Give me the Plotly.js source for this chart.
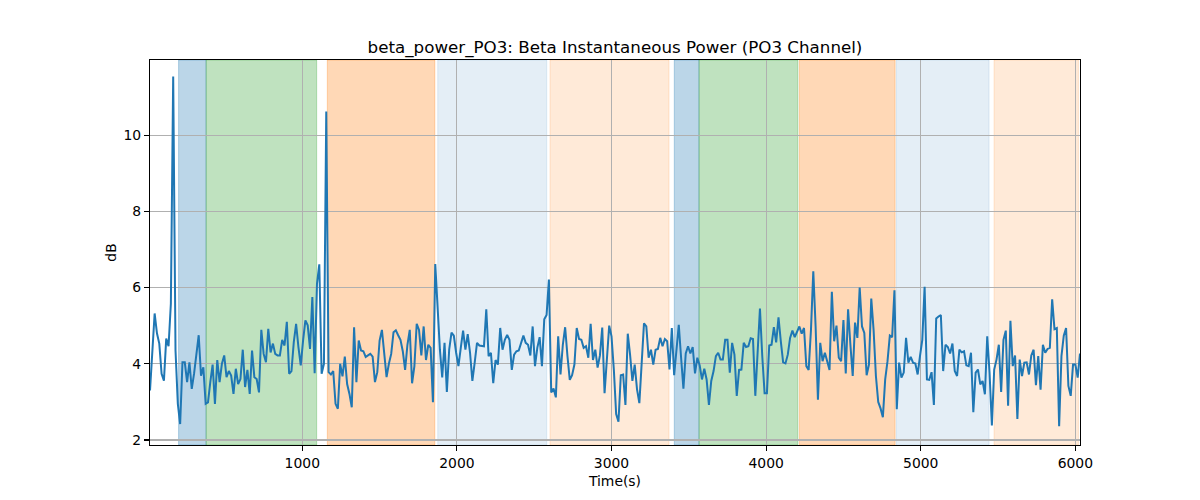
<!DOCTYPE html>
<html>
<head>
<meta charset="utf-8">
<script src="https://cdn.plot.ly/plotly-3.0.1.min.js"></script>
<style>html,body{margin:0;padding:0;background:#fff;}#chart{width:1200px;height:500px;}</style>
</head>
<body>
<div id="chart"></div>
<script>
// Sampling of the series (seconds)
const timeStart = 15;
const timeStep = 15;

// Beta instantaneous power (dB), one value per sample
const betaPower = [
3.3,4.4,5.32,4.8,4.53,3.74,3.56,4.66,4.46,5.58,11.54,4.35,2.95,2.42,4.04,4.04,3.52,4.04,3.34,3.74,
4.26,4.75,3.69,3.91,2.95,2.99,3.52,3.98,2.95,4.1,3.52,4.0,4.22,3.65,3.81,3.69,3.21,3.87,3.47,3.6,
4.37,3.39,3.84,3.21,4.35,3.65,3.6,3.25,4.89,4.26,4.04,4.92,4.3,4.53,4.26,4.22,4.22,4.63,4.48,5.1,
3.74,3.81,4.57,5.05,4.44,3.96,4.61,5.14,5.01,4.39,5.75,3.75,6.1,6.61,3.74,4.0,10.62,3.78,3.72,3.81,
2.95,2.82,4.0,3.67,4.19,3.47,3.21,2.86,4.96,3.52,4.61,4.35,4.33,4.18,4.22,4.26,4.19,3.52,3.78,4.61,
4.89,4.22,3.65,4.0,4.26,4.83,4.88,4.75,4.63,4.33,3.84,4.5,4.89,3.49,3.94,5.05,4.89,4.22,4.98,4.1,
4.5,4.42,2.99,6.62,5.5,4.37,3.64,4.55,3.26,4.37,4.82,4.74,4.29,3.94,4.42,4.87,4.37,4.78,4.29,3.55,
4.03,4.55,4.48,4.46,4.46,5.43,4.2,4.29,3.49,4.1,3.98,4.94,4.37,4.63,4.76,4.63,3.84,4.24,4.33,4.35,
4.55,4.74,4.55,4.5,4.22,4.98,3.94,4.42,4.7,3.94,5.17,5.28,6.21,3.25,3.35,3.12,4.72,3.72,4.5,4.96,
4.2,3.58,3.7,3.98,4.94,4.65,4.63,4.42,4.46,4.16,5.05,4.1,4.37,3.9,4.22,4.95,3.23,4.11,5.0,4.72,
3.85,2.68,2.48,3.7,3.72,2.92,4.79,4.24,3.55,3.98,3.33,2.97,4.16,5.06,4.98,4.16,4.37,3.98,4.37,4.39,
4.68,4.46,4.65,4.59,3.85,4.94,3.7,4.29,5.02,4.16,3.35,4.27,4.46,4.27,4.44,3.75,4.16,3.96,3.59,3.87,
3.59,2.92,3.55,3.81,4.2,4.29,4.11,4.11,4.63,4.63,3.77,4.55,4.24,3.16,3.84,3.85,4.55,4.44,4.46,4.67,
4.65,3.16,4.37,5.45,4.2,3.23,3.23,4.48,4.5,4.96,4.56,5.22,4.59,4.04,4.01,4.24,4.68,4.87,4.7,4.85,
4.98,4.79,4.94,3.94,3.84,4.89,6.43,4.98,3.06,4.55,4.07,4.29,4.03,3.84,5.89,4.59,5.0,4.16,4.07,5.15,
3.75,5.43,4.5,3.68,5.08,4.68,6.0,4.98,4.81,3.7,3.98,5.71,4.89,3.68,3.0,2.83,2.6,3.59,4.07,4.74,
4.7,5.93,2.81,4.03,3.64,3.77,4.68,4.03,4.18,4.03,4.01,3.72,4.2,4.63,6.02,3.59,3.58,3.78,2.92,5.19,
5.24,5.28,3.81,4.5,4.44,4.27,4.53,3.81,3.68,4.37,4.3,4.33,3.96,3.94,4.29,2.73,3.77,3.85,3.46,3.55,
3.2,4.72,3.77,2.38,3.85,4.11,4.5,3.26,4.63,4.87,2.9,5.13,3.94,4.22,2.55,4.11,3.68,4.03,4.04,3.72,
4.22,4.37,3.44,4.2,3.32,4.5,4.29,4.39,4.42,5.69,4.91,4.94,2.36,4.2,4.74,4.94,3.42,3.16,3.98,3.98,
3.64,4.27
];

// Shaded task segments (seconds)
const segStart = [200, 378, 1162, 1876, 2602, 3406, 3566, 4215, 4842, 5474];
const segEnd   = [378, 1093, 1857, 2581, 3372, 3566, 4205, 4834, 5442, 6020];
const segKind  = ['blueStrong','green','orangeStrong','blueLight','orangeLight',
                  'blueStrong','green','orangeStrong','blueLight','orangeLight'];

// Axis ticks
const xTicks = [1000, 2000, 3000, 4000, 5000, 6000];
const yTicks = [2, 4, 6, 8, 10];

const kindColor = {
  blueStrong: 'rgba(31,119,180,0.3)',
  green: 'rgba(44,160,44,0.3)',
  orangeStrong: 'rgba(255,127,14,0.3)',
  blueLight: 'rgba(31,119,180,0.12)',
  orangeLight: 'rgba(255,127,14,0.16)'
};

const times = betaPower.map((_, i) => timeStart + i * timeStep);

const shapes = segStart.map((s, i) => ({
  type: 'rect', xref: 'x', yref: 'paper', x0: s, x1: segEnd[i], y0: 0, y1: 1,
  fillcolor: kindColor[segKind[i]], line: {width: 1, color: kindColor[segKind[i]]}, layer: 'below'
}));

const trace = {
  x: times, y: betaPower, type: 'scatter', mode: 'lines',
  line: {color: '#1f77b4', width: 2}, hoverinfo: 'skip', showlegend: false
};

const font = {family: 'DejaVu Sans, sans-serif', size: 13.9, color: '#000'};

const layout = {
  width: 1200, height: 500,
  margin: {l: 150, r: 120, t: 60, b: 55, pad: 0},
  paper_bgcolor: '#fff', plot_bgcolor: '#fff',
  font: font,
  showlegend: false,
  title: {
    text: 'beta_power_PO3: Beta Instantaneous Power (PO3 Channel)',
    font: {family: 'DejaVu Sans, sans-serif', size: 16.7, color: '#000'},
    xref: 'paper', x: 0.5, xanchor: 'center',
    yref: 'container', y: 0.906, yanchor: 'middle'
  },
  xaxis: {
    range: [timeStart, timeStart + (betaPower.length - 1) * timeStep],
    tickmode: 'array', tickvals: xTicks, ticktext: xTicks.map(String),
    ticks: 'outside', ticklen: 5, tickwidth: 1.1, tickcolor: '#000',
    showgrid: true, gridcolor: '#b0b0b0', gridwidth: 1.1,
    showline: true, mirror: true, linecolor: '#000', linewidth: 1.1,
    zeroline: false,
    title: {text: 'Time(s)', font: font, standoff: 6},
    tickfont: font
  },
  yaxis: {
    range: [1.87, 11.97],
    tickmode: 'array', tickvals: yTicks, ticktext: yTicks.map(String),
    ticks: 'outside', ticklen: 5, tickwidth: 1.1, tickcolor: '#000',
    showgrid: true, gridcolor: '#b0b0b0', gridwidth: 1.1,
    showline: true, mirror: true, linecolor: '#000', linewidth: 1.1,
    zeroline: false,
    title: {text: 'dB', font: font, standoff: 3},
    tickfont: font
  },
  shapes: shapes
};

Plotly.newPlot('chart', [trace], layout, {staticPlot: true, displayModeBar: false});
</script>
</body>
</html>
